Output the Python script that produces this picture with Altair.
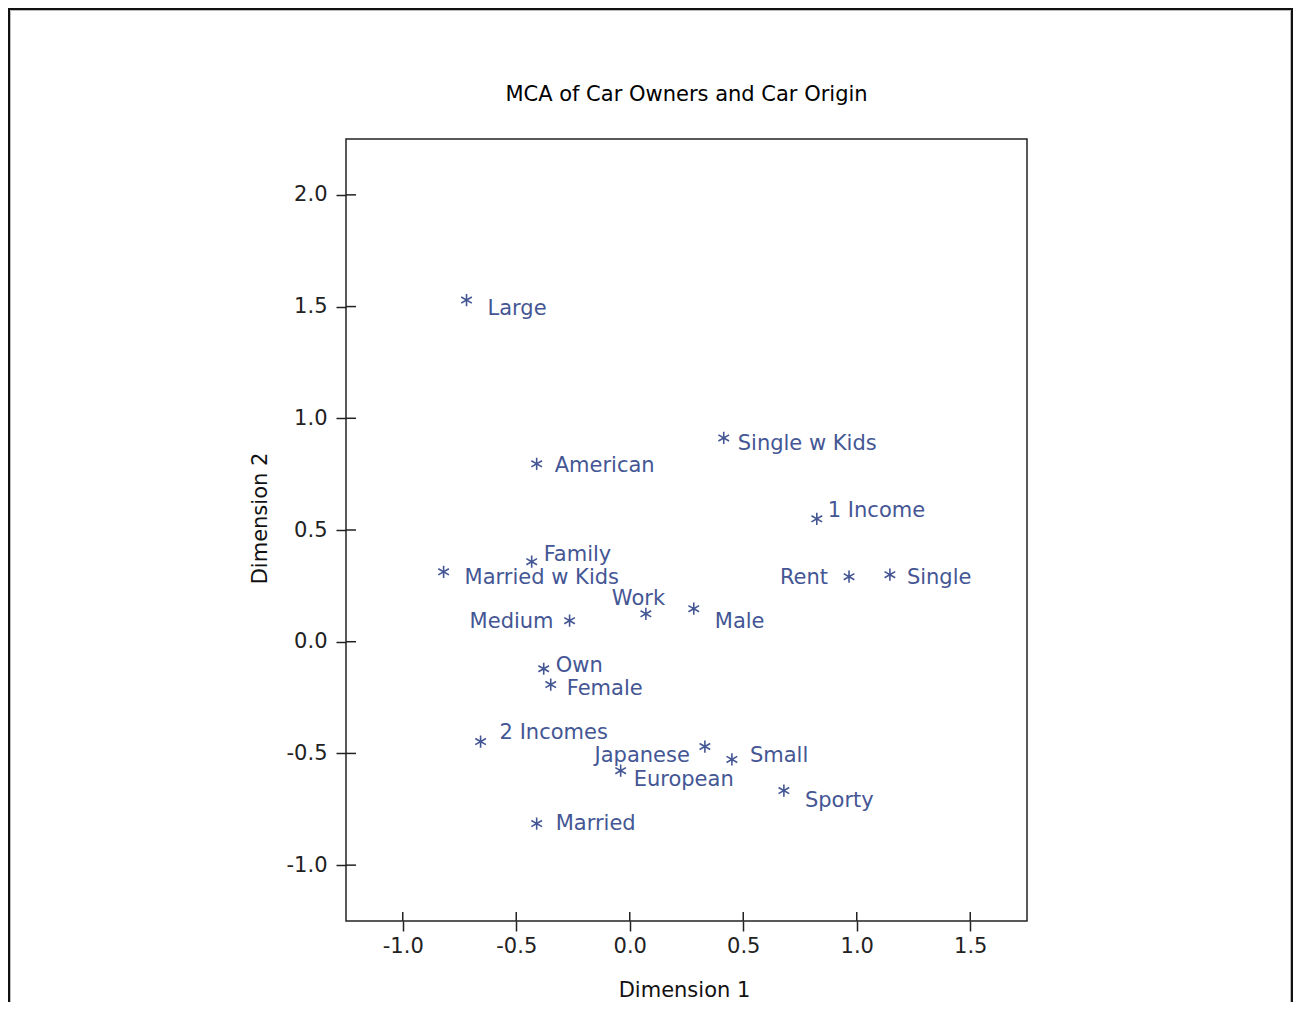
import altair as alt
import pandas as pd

# ---- data ----
LABELS = ["Large", "American", "Single w Kids", "1 Income", "Family", "Married w Kids",
          "Rent", "Single", "Work", "Male", "Medium", "Own", "Female", "2 Incomes",
          "Japanese", "Small", "European", "Sporty", "Married"]
DIM1 = [-0.719, -0.410, 0.414, 0.824, -0.432, -0.820, 0.966, 1.146, 0.071, 0.282,
        -0.265, -0.379, -0.348, -0.657, 0.331, 0.450, -0.040, 0.679, -0.410]
DIM2 = [1.529, 0.796, 0.912, 0.550, 0.358, 0.313, 0.291, 0.300, 0.125, 0.148,
        0.094, -0.121, -0.192, -0.447, -0.469, -0.527, -0.577, -0.666, -0.814]
X_TICKS = [-1.0, -0.5, 0.0, 0.5, 1.0, 1.5]
Y_TICKS = [-1.0, -0.5, 0.0, 0.5, 1.0, 1.5, 2.0]

# ---- label placement (styling only, pixel offsets from the marker) ----
LABEL_ALIGN = ["left", "left", "left", "left", "left", "left", "right", "left", "left", "left",
               "right", "left", "left", "left", "right", "left", "left", "left", "left"]
LABEL_DX = [21, 18, 14, 11, 12, 21, -21, 17, -34, 21, -16, 12, 16, 19, -15, 18, 13, 21, 19]
LABEL_DY = [7, 0, 4, -10, -9, 4, -1, 1, -17, 11, -1, -5, 2, -11, 7, -5, 7, 8, -2]

BLUE = "#445694"
FONT = "DejaVu Sans"
W, H = 681, 782
XDOM = [-1.25, 1.75]
YDOM = [-1.25, 2.25]

df = pd.DataFrame({"label": LABELS, "d1": DIM1, "d2": DIM2,
                   "align": LABEL_ALIGN, "dx": LABEL_DX, "dy": LABEL_DY})

xscale = alt.Scale(domain=XDOM, nice=False, zero=False)
yscale = alt.Scale(domain=YDOM, nice=False, zero=False)
minus_fix = "replace(format(datum.value, '.1f'), '\u2212', '-')"

XAXIS = alt.Axis(values=X_TICKS, labelExpr=minus_fix, title="Dimension 1",
                 titleX=338, titleY=75, titleBaseline="alphabetic")
YAXIS = alt.Axis(values=Y_TICKS, labelExpr=minus_fix, title="Dimension 2",
                 titleX=-86, titleY=379, titleAngle=-90,
                 titleBaseline="middle", titleAlign="center")


def X(f):
    return alt.X(f, scale=xscale, axis=XAXIS)


def Y(f):
    return alt.Y(f, scale=yscale, axis=YAXIS)


base = alt.Chart(df)

STAR = "M0,-1L0,1M-0.87,-0.5L0.87,0.5M-0.87,0.5L0.87,-0.5"

points = base.mark_point(shape=STAR, filled=False, stroke=BLUE, strokeWidth=1.6,
                         size=150, opacity=1).encode(x=X("d1:Q"), y=Y("d2:Q"))

xu = (XDOM[1] - XDOM[0]) / W
yu = (YDOM[1] - YDOM[0]) / H


def label_layer(al):
    return base.transform_filter(alt.datum.align == al).transform_calculate(
        lx=f"datum.d1 + datum.dx * {xu}",
        ly=f"datum.d2 - (datum.dy + 2) * {yu}",
    ).mark_text(
        align=al, baseline="middle", font=FONT, fontSize=21, color=BLUE
    ).encode(x=X("lx:Q"), y=Y("ly:Q"), text="label:N")


xt = pd.DataFrame({"d1": X_TICKS})
yt = pd.DataFrame({"d2": Y_TICKS})
inner_xticks = alt.Chart(xt).mark_rule(color="#222", strokeWidth=1.5).encode(
    x=X("d1:Q"), y=alt.value(H - 9), y2=alt.value(H))
inner_yticks = alt.Chart(yt).mark_rule(color="#222", strokeWidth=1.5).encode(
    y=Y("d2:Q"), x=alt.value(0), x2=alt.value(10))

one = pd.DataFrame({"f": [0]})
frame = alt.Chart(one).mark_rect(fillOpacity=0, stroke="#111", strokeWidth=2).encode(
    x=alt.value(-337), x2=alt.value(946), y=alt.value(-130), y2=alt.value(870))
frame_inner = alt.Chart(one).mark_rect(fillOpacity=0, stroke="#bbb", strokeWidth=1).encode(
    x=alt.value(-335.5), x2=alt.value(944.5), y=alt.value(-128.5), y2=alt.value(870))

chart = alt.layer(
    frame, frame_inner, inner_xticks, inner_yticks, points,
    label_layer("left"), label_layer("right"),
).properties(
    width=W, height=H,
    title=alt.TitleParams("MCA of Car Owners and Car Origin", font=FONT, fontSize=21,
                          fontWeight="normal", color="#000", anchor="middle",
                          frame="group", offset=0, baseline="alphabetic", dy=114),
    autosize=alt.AutoSizeParams(type="none"),
    padding={"left": 338, "top": 131, "right": 267, "bottom": 81},
).configure_view(
    stroke="#222", strokeWidth=1.5
).configure_axis(
    domain=False, grid=False, ticks=True, tickSize=10, tickColor="#222", tickWidth=1.5,
    labelFont=FONT, labelFontSize=21, labelColor="#222",
    titleFont=FONT, titleFontSize=21, titleColor="#111", titleFontWeight="normal",
).configure_axisX(labelPadding=4).configure_axisY(labelPadding=9)

chart.save("out.html", embed_options={"renderer": "svg", "actions": False})
